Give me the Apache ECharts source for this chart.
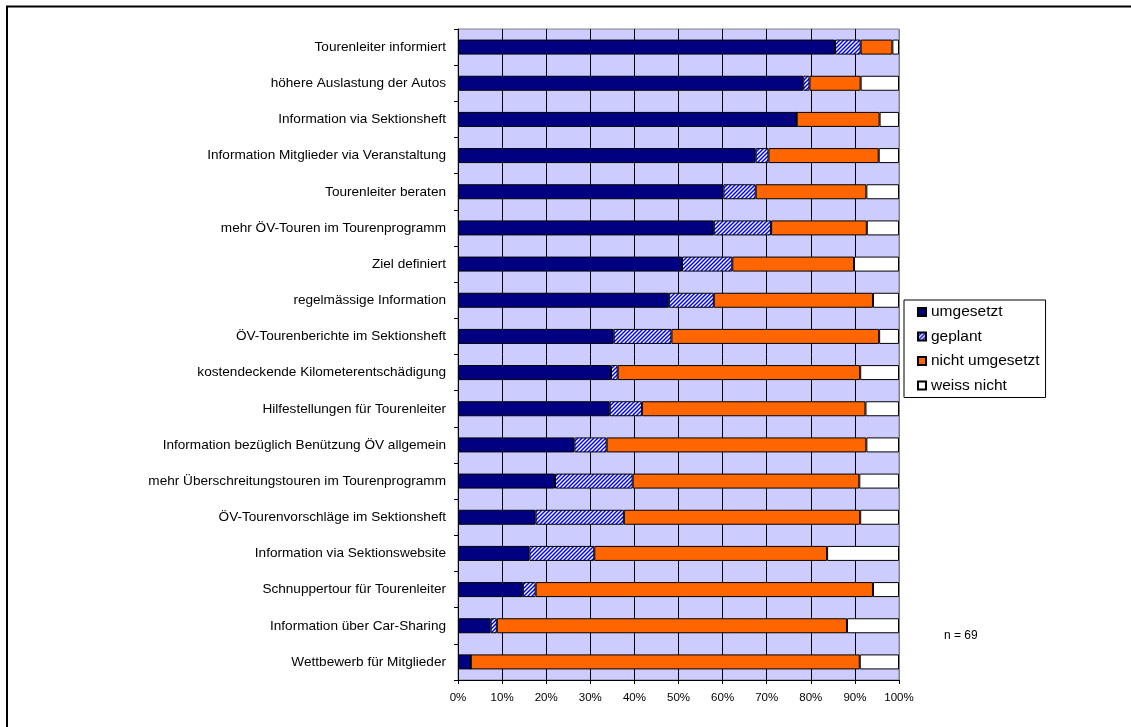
<!DOCTYPE html>
<html>
<head>
<meta charset="utf-8">
<title>Massnahmen</title>
<script src="https://cdn.jsdelivr.net/npm/echarts@6/dist/echarts.min.js"></script>
<style>
  html, body { margin: 0; padding: 0; background: #ffffff; }
  #chart { width: 1131px; height: 727px; }
</style>
</head>
<body>
<div id="chart"></div>
<script>
/* Kategorien von oben nach unten */
var categories = [
    "Tourenleiter informiert",
    "höhere Auslastung der Autos",
    "Information via Sektionsheft",
    "Information Mitglieder via Veranstaltung",
    "Tourenleiter beraten",
    "mehr ÖV-Touren im Tourenprogramm",
    "Ziel definiert",
    "regelmässige Information",
    "ÖV-Tourenberichte im Sektionsheft",
    "kostendeckende Kilometerentschädigung",
    "Hilfestellungen für Tourenleiter",
    "Information bezüglich Benützung ÖV allgemein",
    "mehr Überschreitungstouren im Tourenprogramm",
    "ÖV-Tourenvorschläge im Sektionsheft",
    "Information via Sektionswebsite",
    "Schnuppertour für Tourenleiter",
    "Information über Car-Sharing",
    "Wettbewerb für Mitglieder"
];

/* Anteile in Prozent, je Kategorie */
var umgesetzt      = [85.5, 78.3, 76.8, 67.5, 60.2, 58.0, 50.8, 47.8, 35.3, 34.7, 34.4, 26.4, 22.0, 17.6, 16.2, 14.7, 7.4, 2.9];
var geplant        = [5.8, 1.4, 0, 2.9, 7.3, 13.0, 11.4, 10.2, 13.1, 1.5, 7.3, 7.3, 17.6, 20.0, 14.7, 2.9, 1.4, 0];
var nichtUmgesetzt = [7.2, 11.6, 18.8, 25.0, 25.1, 21.7, 27.6, 36.1, 47.1, 55.0, 50.7, 58.9, 51.4, 53.6, 52.8, 76.5, 79.4, 88.2];
var weissNicht     = [1.5, 8.7, 4.4, 4.6, 7.4, 7.3, 10.2, 5.9, 4.5, 8.8, 7.6, 7.4, 9.0, 8.8, 16.3, 5.9, 11.8, 8.9];

var seriesNames = ["umgesetzt", "geplant", "nicht umgesetzt", "weiss nicht"];
var xTicks = [0, 10, 20, 30, 40, 50, 60, 70, 80, 90, 100];

var FONT = "'Liberation Sans', Arial, sans-serif";

/* Schraffur fuer "geplant" (blaue Diagonalen auf weiss) */
function hatch() {
    var c = document.createElement("canvas");
    c.width = 4;
    c.height = 4;
    var g = c.getContext("2d");
    g.fillStyle = "#ffffff";
    g.fillRect(0, 0, 4, 4);
    g.strokeStyle = "#0000ff";
    g.lineWidth = 1.5;
    g.beginPath();
    g.moveTo(-1, 5); g.lineTo(5, -1);
    g.moveTo(-1, 1); g.lineTo(1, -1);
    g.moveTo(3, 5); g.lineTo(5, 3);
    g.stroke();
    return c;
}

var fills = ["#000080", { image: hatch(), repeat: "repeat" }, "#ff6600", "#ffffff"];
var values = [umgesetzt, geplant, nichtUmgesetzt, weissNicht];

var chart = echarts.init(document.getElementById("chart"));

var series = [];
for (var i = 0; i < seriesNames.length; i++) {
    series.push({
        name: seriesNames[i],
        type: "bar",
        stack: "total",
        barWidth: 15,
        data: values[i],
        itemStyle: { color: fills[i], borderColor: "#000000", borderWidth: 1 },
        emphasis: { disabled: true }
    });
}

/* letzte Gitterlinie (100 %) grau wie der Rahmen der Zeichenflaeche */
var splitColors = xTicks.map(function (t) { return t === 100 ? "#808080" : "#000000"; });

chart.setOption({
    animation: false,
    textStyle: { fontFamily: FONT },
    grid: {
        left: 458, top: 29, width: 441, height: 651,
        show: true,
        backgroundColor: "#ccccff",
        borderColor: "#808080",
        borderWidth: 1
    },
    legend: {
        orient: "vertical",
        left: 904,
        top: 300,
        padding: [4, 6, 4, 13],
        borderColor: "#000000",
        borderWidth: 1,
        icon: "rect",
        itemWidth: 8,
        itemHeight: 8,
        itemGap: 8.5,
        selectedMode: false,
        data: seriesNames,
        textStyle: { fontFamily: FONT, fontSize: 15.5, lineHeight: 16, color: "#000000" }
    },
    xAxis: {
        type: "value",
        min: 0,
        max: 100,
        interval: 10,
        axisLine: { show: true, lineStyle: { color: "#000000", width: 1 } },
        axisTick: { show: true, length: 4, lineStyle: { color: "#000000" } },
        axisLabel: { formatter: "{value}%", fontSize: 11.5, color: "#000000", margin: 12, fontFamily: FONT },
        splitLine: { show: true, lineStyle: { color: splitColors, width: 1 } }
    },
    yAxis: {
        type: "category",
        inverse: true,
        data: categories,
        axisLine: { show: true, lineStyle: { color: "#000000", width: 1 } },
        axisTick: { show: true, length: 4, lineStyle: { color: "#000000" } },
        axisLabel: { fontSize: 13.6, color: "#000000", margin: 12, fontFamily: FONT },
        splitLine: { show: false }
    },
    graphic: [
        {
            type: "rect",
            shape: { x: 7, y: 6.5, width: 1300, height: 900 },
            style: { fill: null, stroke: "#000000", lineWidth: 2 },
            silent: true
        },
        {
            type: "text",
            left: 944,
            top: 630,
            style: { text: "n = 69", font: "12px " + FONT, fill: "#000000" },
            silent: true
        }
    ],
    series: series
});
</script>
</body>
</html>
